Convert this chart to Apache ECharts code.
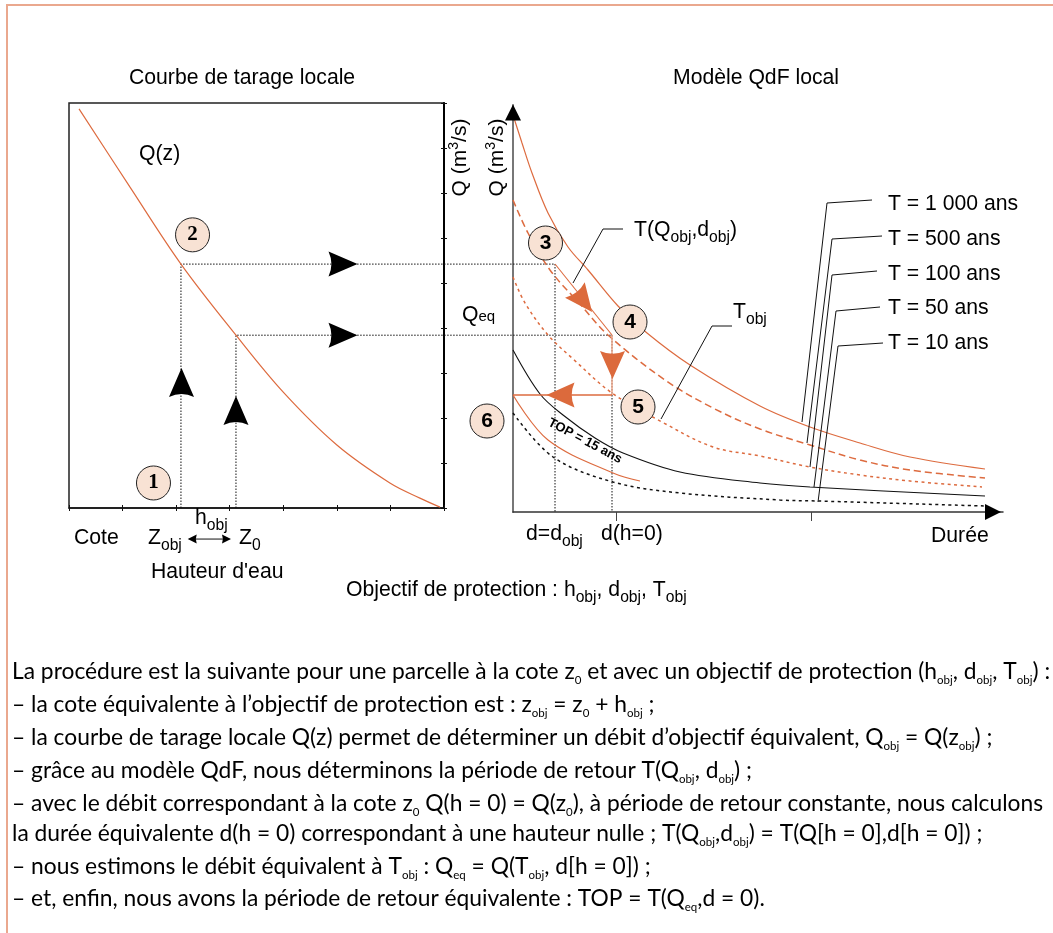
<!DOCTYPE html>
<html><head><meta charset="utf-8">
<style>html,body{margin:0;padding:0;background:#fff}#c{width:1053px;height:933px}</style>
<script src="https://cdn.jsdelivr.net/npm/echarts@6/dist/echarts.min.js"></script>
</head><body><div id="c"></div>
<script>
// ---- Rating curve (left): x = cote units, y = Q units
const ratingCurve = [[0.187,8.87],[1.139,7.13],[2.09,5.42],[3.117,3.84],[3.995,2.58],[5.0,1.40],[5.99,0.556],[6.55,0.22],[6.925,0.02]];
const zObj = 2.09, z0 = 3.117, qObjLeft = 5.42, qH0Left = 3.84;
const dObjInLeftUnits = 9.07, dH0InLeftUnits = 10.136;
// ---- QdF curves (right): x = duration, y = Q
const t1000 = [[0,397],[9,369],[19,339],[35,299],[55,265],[75,242],[105,206],[134,179],[177,147],[247,106],[297,85],[347,69],[397,55],[472,43]];
const t500  = [[0,312],[15,279],[37,242],[67,208],[95,177],[152,132],[200,104],[247,83],[297,67],[347,52],[397,42],[472,34]];
const t100  = [[0,235],[12,209],[35,177],[59,154],[99,119],[149,90],[200,65],[247,56],[297,45],[347,37],[397,31],[469,25]];
const t50   = [[0,162],[27,118],[50,97],[82,74],[110,59],[167,40],[247,29],[297,25],[472,16]];
const t10   = [[0,99],[40,55],[100,30],[167,19],[267,12],[305,11],[472,6]];
const top15 = [[0,117],[35,72],[100,39],[127,31]];
const pathDiag = [[42,248],[99,177]];
const pathDown = [[99,177],[99,117]];
const pathLeft = [[99,117],[0,117]];
const dObj = 42, dH0 = 99, qObj = 248, qH0 = 177;
// ---- leaders
const leaders = [
  [[359,312],[314,309],[289,90]],
  [[369,276],[319,273],[294,69]],
  [[364,241],[319,237],[297,45]],
  [[367,205],[323,201],[301,25]],
  [[370,169],[325,166],[305,10]],
  [[110,283],[90,283],[60,229]],
  [[219,186],[199,186],[148,93]]
];
const durationTicks = [103,298];
// ---- numbered steps
const stepsLeft = [[1.577,0.556,'1'],[2.306,6.07,'2']];
const stepsRight = [[32.5,269,'3'],[117,190,'4'],[125,105,'5'],[-26,91,'6']];
// ---- arrowheads [x,y,rotation]
const blackArrows = [[5.115,5.42,0],[5.115,3.84,0],[2.1,2.79,90],[3.117,2.167,90]];
const orangeArrows = [[70.5,211,-52],[99.5,147,-90],[47.5,117,180]];
const hArrowLine = [[2.25,-0.69],[2.99,-0.69]];
const hArrowHeads = [[2.3,-0.69,180],[2.94,-0.69,0]];
const axisHeads = [[0,399.5,0],[480,0,-90]];
// ---- text
const bodyLines = [
 'La procédure est la suivante pour une parcelle à la cote z{s|0} et avec un objectif de protection (h{s|obj}, d{s|obj}, T{s|obj}) :',
 '– la cote équivalente à l’objectif de protection est : z{s|obj} = z{s|0} + h{s|obj} ;',
 '– la courbe de tarage locale Q(z) permet de déterminer un débit d’objectif équivalent, Q{s|obj} = Q(z{s|obj}) ;',
 '– grâce au modèle QdF, nous déterminons la période de retour T(Q{s|obj}, d{s|obj}) ;',
 '– avec le débit correspondant à la cote z{s|0} Q(h = 0) = Q(z{s|0}), à période de retour constante, nous calculons',
 'la durée équivalente d(h = 0) correspondant à une hauteur nulle ; T(Q{s|obj},d{s|obj}) = T(Q[h = 0],d[h = 0]) ;',
 '– nous estimons le débit équivalent à T{s|obj} : Q{s|eq} = Q(T{s|obj}, d[h = 0]) ;',
 '– et, enfin, nous avons la période de retour équivalente : TOP = T(Q{s|eq},d = 0).'
];
const bodyY = [672,705,738,771,804,834,867,899];
const tLabels = ['T = 1 000 ans','T = 500 ans','T = 100 ans','T = 50 ans','T = 10 ans'];
const tLabelY = [204,239,274,308,343];

const ORANGE = '#dd6b3f', BLACK = '#111', SANS = '"Liberation Sans"', BODY = 'Lato';
const ARROW = 'path://M0,0 L30,12.5 L0,25 Q6,12.5 0,0 Z';

function label(text, x, y, size, extra) {
  const H = Math.round(size * 1.5);
  return Object.assign({type:'text', x, y, z:50, style:Object.assign({
    text, fill:'#000', fontFamily:SANS, fontSize:size, lineHeight:H, verticalAlign:'middle', align:'left',
    rich:{s:{fontFamily:SANS, fontSize:size*0.74, lineHeight:H, verticalAlign:'bottom', fill:'#000'}}
  }, extra||{})});
}
function bodyLabel(text, y) {
  const H = 29;
  return {type:'text', x:12, y, z:50, style:{
    text, fill:'#000', fontFamily:BODY, fontSize:22.8, lineHeight:H, verticalAlign:'middle', align:'left',
    rich:{s:{fontFamily:BODY, fontSize:11.5, lineHeight:H, verticalAlign:'bottom', fill:'#000'}}
  }};
}
function qAxisTitle(x) {
  return {type:'text', x, y:157.5, rotation:Math.PI/2, z:50, style:{text:'Q (m{u|3}/s)', fill:'#000', fontFamily:SANS, fontSize:21, lineHeight:26, align:'center', verticalAlign:'middle',
    rich:{u:{fontFamily:SANS, fontSize:14, lineHeight:26, verticalAlign:'top', fill:'#000'}}}};
}
const graphics = [
  {type:'rect', shape:{x:6,y:4,width:2,height:929}, style:{fill:'#eaa88e'}},
  {type:'rect', shape:{x:6,y:4,width:1047,height:2}, style:{fill:'#eaa88e'}},
  label('Courbe de tarage locale',129,78,21.2),
  label('Modèle QdF local',673,78,21.2),
  label('Q(z)',139,154,21.2),
  label('Q{e|eq}',462,315,21.2,{rich:{e:{fontFamily:SANS,fontSize:15,lineHeight:32,verticalAlign:'middle',padding:[3,0,0,0]}}}),
  label('Cote',74,538,21.2),
  label('Z{s|obj}',148,538,21.2),
  label('Z{s|0}',239,538,21.2),
  label('h{s|obj}',195,518,21.2),
  label('Hauteur d\'eau',151,572,21.2),
  label('Objectif de protection : h{s|obj}, d{s|obj}, T{s|obj}',346,590,21.2),
  label('d=d{s|obj}',526,534,21.2),
  label('d(h=0)',601,534,21.2),
  label('Durée',931,536,21.2),
  label('T(Q{s|obj},d{s|obj})',634,230,21.2),
  label('T{s|obj}',733,312,21.2),
  {type:'text', x:585, y:441, rotation:-28*Math.PI/180, z:50, style:{text:'TOP = 15 ans', fill:'#000', fontFamily:SANS, fontWeight:'bold', fontSize:13, align:'center', verticalAlign:'middle'}},
  qAxisTitle(460),
  qAxisTitle(497)
];
tLabels.forEach((t,i)=>graphics.push(label(t,888,tLabelY[i],21.2)));
bodyLines.forEach((t,i)=>graphics.push(bodyLabel(t,bodyY[i])));

const lineOnRight = (name,data,color,width,type)=>({name,type:'line',xAxisIndex:2,yAxisIndex:2,data,smooth:0.35,symbol:'none',clip:false,z:3,
  lineStyle:{color,width,type},silent:true});
const dotted = (data,xi,yi)=>({type:'line',xAxisIndex:xi,yAxisIndex:yi,data,symbol:'none',clip:false,z:2,silent:true,
  lineStyle:{color:'#111',width:1,type:[1.5,1.5]}});
const plain = (data,color,width)=>({type:'line',xAxisIndex:2,yAxisIndex:2,data,symbol:'none',clip:false,z:4,silent:true,lineStyle:{color,width}});
const heads = (data,xi,yi,color,size,symbol)=>({type:'scatter',xAxisIndex:xi,yAxisIndex:yi,clip:false,z:6,silent:true,
  symbol,symbolSize:size,itemStyle:{color,opacity:1},symbolRotate:(v)=>v[2],data});
const steps = (data,xi,yi,font)=>({type:'scatter',xAxisIndex:xi,yAxisIndex:yi,clip:false,z:8,silent:true,symbol:'circle',symbolSize:34,
  itemStyle:{color:'#f8e2d4',borderColor:'#222',borderWidth:1,opacity:1},
  label:{show:true,position:'inside',formatter:(p)=>p.value[2],fontFamily:font,fontWeight:'bold',fontSize:21,color:'#000'},data});

const series = [
  {type:'line',name:'Q(z)',xAxisIndex:0,yAxisIndex:0,data:ratingCurve,smooth:0.35,symbol:'none',z:3,silent:true,lineStyle:{color:ORANGE,width:1.2}},
  dotted([[zObj,0],[zObj,qObjLeft],[dObjInLeftUnits,qObjLeft]],3,3),
  dotted([[z0,0],[z0,qH0Left],[dH0InLeftUnits,qH0Left]],3,3),
  dotted([[dObj,qObj],[dObj,0]],2,2),
  dotted([[dH0,qH0],[dH0,0]],2,2),
  lineOnRight('T = 1 000 ans',t1000,ORANGE,1.2,'solid'),
  lineOnRight('T = 500 ans',t500,ORANGE,1.5,[7,4]),
  lineOnRight('T = 100 ans',t100,ORANGE,1.5,[3,3.5]),
  lineOnRight('T = 50 ans',t50,BLACK,1.1,'solid'),
  lineOnRight('T = 10 ans',t10,BLACK,1.5,[3,3.5]),
  lineOnRight('TOP = 15 ans',top15,ORANGE,1.2,'solid'),
  plain(pathDiag,ORANGE,1.1),
  plain(pathDown,'#eea98c',1.5),
  plain(pathLeft,ORANGE,1.3),
  {type:'line',xAxisIndex:0,yAxisIndex:0,data:hArrowLine,symbol:'none',clip:false,z:4,silent:true,lineStyle:{color:'#111',width:1}},
  heads(blackArrows,0,0,'#000',[29,25],ARROW),
  heads(hArrowHeads,0,0,'#000',[9,9],ARROW),
  heads(orangeArrows,2,2,'#dc6a3c',[28,25],ARROW),
  heads(axisHeads,2,2,'#000',[16,16],'triangle'),
  steps(stepsLeft,0,0,'"Liberation Serif"'),
  steps(stepsRight,2,2,SANS)
];
leaders.forEach(l=>series.push({type:'line',xAxisIndex:2,yAxisIndex:2,data:l,symbol:'none',clip:false,z:5,silent:true,lineStyle:{color:'#111',width:1}}));

const noLabel = {show:false};
const chart = echarts.init(document.getElementById('c'),null,{renderer:'canvas'});
chart.setOption({
  animation:false,
  backgroundColor:'#fff',
  grid:[
    {left:69,top:103,width:375,height:405,show:true,borderColor:'#222',borderWidth:1.5,backgroundColor:'transparent'},
    {left:513,top:105,width:490,height:407,show:false},
    {left:69,top:103,width:543,height:405,show:false},
    {left:69,top:103,width:375,height:405,show:false}
  ],
  xAxis:[
    {gridIndex:0,type:'value',min:0,max:7,interval:1,axisLabel:noLabel,splitLine:{show:false},axisLine:{onZero:false,lineStyle:{color:'#111',width:1.5}},axisTick:{show:true,length:3,lineStyle:{color:'#111'}}},
    {gridIndex:3,type:'value',position:'bottom',min:0,max:7,interval:1,axisLabel:noLabel,splitLine:{show:false},axisLine:{show:false,onZero:false},axisTick:{show:true,inside:true,length:3,lineStyle:{color:'#111'}}},
    {gridIndex:1,type:'value',min:0,max:490,axisLabel:noLabel,splitLine:{show:false},axisLine:{onZero:false,lineStyle:{color:'#333',width:1.5}},axisTick:{show:true,length:9,customValues:durationTicks,lineStyle:{color:'#444'}}},
    {gridIndex:2,type:'value',show:false,min:0,max:dH0InLeftUnits}
  ],
  yAxis:[
    {gridIndex:0,type:'value',position:'right',min:0,max:9,interval:1,axisLabel:noLabel,splitLine:{show:false},axisLine:{show:true,onZero:false,lineStyle:{color:'#000',width:2}},axisTick:{show:true,length:3,lineStyle:{color:'#111'}}},
    {gridIndex:3,type:'value',position:'right',min:0,max:9,interval:1,axisLabel:noLabel,splitLine:{show:false},axisLine:{show:false,onZero:false},axisTick:{show:true,inside:true,length:3,lineStyle:{color:'#111'}}},
    {gridIndex:1,type:'value',min:0,max:407,axisLabel:noLabel,splitLine:{show:false},axisLine:{show:true,onZero:false,lineStyle:{color:'#777',width:2}},axisTick:{show:false}},
    {gridIndex:2,type:'value',show:false,min:0,max:9}
  ],
  series,
  graphic:graphics
});
</script></body></html>
